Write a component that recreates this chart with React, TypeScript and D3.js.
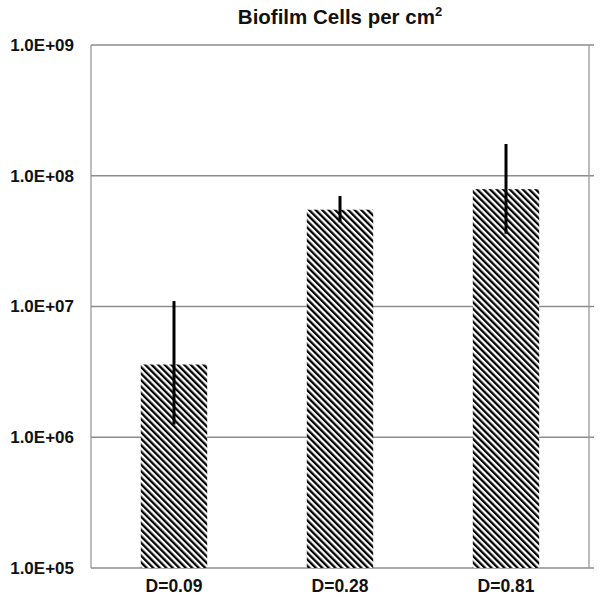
import React from 'react';
import * as d3 from 'd3';

const groups = ['D=0.09', 'D=0.28', 'D=0.81'];
const cells = [3.6e6, 5.5e7, 7.9e7];
const errLow = [1.25e6, 4.4e7, 3.6e7];
const errHigh = [1.1e7, 7.0e7, 1.75e8];
const yTicks = [1e5, 1e6, 1e7, 1e8, 1e9];

const W = 602,
      H = 604,
      left = 91,
      right = 589,
      top = 45,
      bottom = 568;

const x = d3.scaleBand<string>()
            .domain(groups)
            .range([left, right])
            .paddingInner(0.6)
            .paddingOuter(0.3);

const y = d3.scaleLog()
            .domain([1e5, 1e9])
            .range([bottom, top]);

const fmt = (v: number) => {
  const e = Math.round(Math.log10(v));
  return (v / 10 ** e).toFixed(1) + 'E+' + String(e).padStart(2, '0');
};

const font = '"Liberation Sans", Arial, sans-serif';
const hs = 4.6;

export default function App() {
  return (
    <svg width={W} height={H} style={{ position: 'absolute', left: 0, top: 0 }}>
      <defs>
        <pattern id="hatch" width={hs} height={hs} patternUnits="userSpaceOnUse"
                 patternTransform="rotate(-45)">
          <rect width={hs} height={hs} fill="white" />
          <line x1={0} y1={0} x2={0} y2={hs} stroke="black" strokeWidth={4.6} />
        </pattern>
      </defs>
      <rect width={W} height={H} fill="white" />

      <text x={(left + right) / 2} y={24} textAnchor="middle" fontFamily={font}
            fontWeight="bold" fontSize={20.5} fill="#111">
        Biofilm Cells per cm<tspan fontSize={13} dy={-8}>2</tspan>
      </text>

      {yTicks.map(t =>
        <g key={t}>
          <line x1={left} x2={right + 5} y1={y(t)} y2={y(t)} stroke="#8c8c8c" strokeWidth={1.3} />
          <text x={74} y={y(t)} dy="0.35em" textAnchor="end" fontFamily={font}
                fontWeight="bold" fontSize={17} fill="#111">{fmt(t)}</text>
        </g>
      )}
      <line x1={left} x2={left} y1={top} y2={bottom} stroke="#999" strokeWidth={1.3} />
      <line x1={right} x2={right} y1={top} y2={bottom} stroke="#999" strokeWidth={1.3} />

      {groups.map((g, i) => {
        const cx = x(g)! + x.bandwidth() / 2;
        return (
          <g key={g}>
            <rect x={x(g)} y={y(cells[i])} width={x.bandwidth()}
                  height={bottom - y(cells[i])} fill="url(#hatch)" />
            <line x1={cx} x2={cx} y1={y(errLow[i])} y2={y(errHigh[i])}
                  stroke="black" strokeWidth={3} />
            <text x={cx} y={592} textAnchor="middle" fontFamily={font}
                  fontWeight="bold" fontSize={17.5} fill="#111">{g}</text>
          </g>
        );
      })}
    </svg>
  );
}
